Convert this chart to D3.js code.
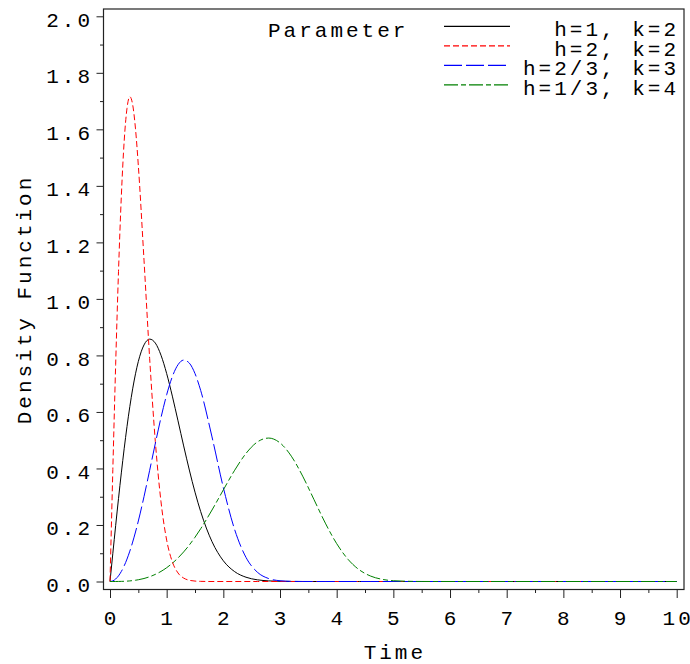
<!DOCTYPE html>
<html>
<head>
<meta charset="utf-8">
<script src="https://cdn.jsdelivr.net/npm/d3@7"></script>
<style>
  body { margin: 0; background: #fff; }
  text { font-family: "Liberation Mono", "DejaVu Sans Mono", monospace; fill: #000; }
</style>
</head>
<body>
<svg id="chart" width="690" height="664"></svg>
<script>

// time grid the curves were read at
const TIME = [0, 0.05, 0.1, 0.15, 0.2, 0.25, 0.3, 0.35, 0.4, 0.45, 0.5, 0.6, 0.7, 0.8, 0.9,
    1.0, 1.1, 1.2, 1.3, 1.4, 1.5, 1.6, 1.8, 2.0, 2.2, 2.4, 2.6, 2.8, 3.0, 3.2, 3.4, 3.6,
    3.8, 4.0, 4.2, 4.4, 4.6, 4.8, 5.0, 5.5, 6.0, 10];

// density values, one array per parameter set
const H1_K2 = [0, 0.0998, 0.1980, 0.2933, 0.3843, 0.4697, 0.5484, 0.6193, 0.6817, 0.7350, 0.7788,
    0.8372, 0.8577, 0.8437, 0.8007, 0.7358, 0.6560, 0.5686, 0.4797, 0.3944, 0.3162, 0.2474,
    0.1410, 0.0733, 0.0348, 0.0151, 0.0060, 0.0022, 0.0007, 0.0002, 0, 0,
    0, 0, 0, 0, 0, 0, 0, 0, 0, 0];
const H2_K2 = [0, 0.3960, 0.7686, 1.0967, 1.3634, 1.5576, 1.6744, 1.7154, 1.6873, 1.6015, 1.4715,
    1.1373, 0.7888, 0.4947, 0.2820, 0.1465, 0.0696, 0.0302, 0.0121, 0.0044, 0.0015, 0.0005,
    0, 0, 0, 0, 0, 0, 0, 0, 0, 0,
    0, 0, 0, 0, 0, 0, 0, 0, 0, 0];
const H23_K3 = [0, 0.0022, 0.0089, 0.0200, 0.0355, 0.0553, 0.0794, 0.1075, 0.1396, 0.1752, 0.2141,
    0.3002, 0.3935, 0.4888, 0.5801, 0.6609, 0.7250, 0.7671, 0.7835, 0.7727, 0.7358, 0.6761,
    0.5116, 0.3323, 0.1834, 0.0852, 0.0329, 0.0104, 0.0027, 0.0006, 0.0001, 0,
    0, 0, 0, 0, 0, 0, 0, 0, 0, 0];
const H13_K4 = [0, 0, 0, 0.0002, 0.0004, 0.0008, 0.0013, 0.0021, 0.0032, 0.0045, 0.0062,
    0.0106, 0.0169, 0.0252, 0.0357, 0.0488, 0.0646, 0.0832, 0.1047, 0.1292, 0.1566, 0.1866,
    0.2530, 0.3242, 0.3938, 0.4532, 0.4937, 0.5076, 0.4905, 0.4434, 0.3728, 0.2897,
    0.2065, 0.1340, 0.0785, 0.0411, 0.0191, 0.0078, 0.0028, 0.0001, 0, 0];

const SERIES_LABELS = ["h=1, k=2", "h=2, k=2", "h=2/3, k=3", "h=1/3, k=4"];
const SERIES_VALUES = [H1_K2, H2_K2, H23_K3, H13_K4];

const X_TICKS = [0, 1, 2, 3, 4, 5, 6, 7, 8, 9, 10];
const Y_TICKS = [0, 0.2, 0.4, 0.6, 0.8, 1.0, 1.2, 1.4, 1.6, 1.8, 2.0];

const COLORS = ["#000000", "#ff0000", "#0000ff", "#008000"];
const DASHES = [null, "6,3", "18,4", "14,3,5,3"];

const FONT = 21, SPACE = 3;

let svg = d3.select("#chart");

// frame of the plot area
let frame = {left: 103.5, right: 684, top: 9, bottom: 589.5};

let x = d3.scaleLinear().domain([0, 10]).range([110, 676.7]);
let y = d3.scaleLinear().domain([0, 2]).range([581.5, 16.3]);

// spaced-out text; the last glyph gets no trailing space so anchors stay true
function spaced(sel, fmt) {
    sel.style("font-size", FONT + "px").each(function(d) {
        let s = String(fmt(d));
        let t = d3.select(this);
        t.append("tspan").style("letter-spacing", SPACE + "px").text(s.slice(0, -1));
        t.append("tspan").style("letter-spacing", "0px").text(s.slice(-1));
    });
}

svg.append("rect")
    .attr("x", frame.left).attr("y", frame.top)
    .attr("width", frame.right - frame.left)
    .attr("height", frame.bottom - frame.top)
    .attr("fill", "none")
    .attr("stroke", "#222")
    .attr("stroke-width", 1.2);

// y axis: major + minor ticks drawn with d3.axisLeft
let yAxis = svg.append("g").attr("transform", `translate(${frame.left},0)`);
yAxis.call(d3.axisLeft(y).tickValues(d3.range(0.1, 2, 0.2)).tickSize(3.5).tickFormat(""));
yAxis.append("g").call(d3.axisLeft(y).tickValues(Y_TICKS).tickSize(7).tickFormat(""));
yAxis.selectAll(".domain").remove();
yAxis.selectAll("line").attr("stroke", "#222");

svg.append("g").selectAll("text")
    .data(Y_TICKS)
    .join("text")
    .attr("x", 90)
    .attr("y", d => y(d) + 10.5)
    .attr("text-anchor", "end")
    .call(spaced, d3.format(".1f"));

// x axis sits under the frame
let xAxis = svg.append("g").attr("transform", `translate(0,${frame.bottom})`);
xAxis.call(d3.axisBottom(x).tickValues(d3.range(0.5, 10, 1)).tickSize(3.5).tickFormat(""));
xAxis.append("g").call(d3.axisBottom(x).tickValues(X_TICKS).tickSize(8.5).tickFormat(""));
xAxis.selectAll(".domain").remove();
xAxis.selectAll("line").attr("stroke", "#222");

svg.append("g").selectAll("text")
    .data(X_TICKS)
    .join("text")
    .attr("x", d => x(d))
    .attr("y", 625)
    .attr("text-anchor", "middle")
    .call(spaced, d => d);

svg.append("text")
    .datum("Time")
    .attr("x", x(5))
    .attr("y", 659)
    .attr("text-anchor", "middle")
    .call(spaced, d => d);

svg.append("text")
    .datum("Density Function")
    .attr("transform", "translate(31,301) rotate(-90)")
    .attr("text-anchor", "middle")
    .call(spaced, d => d);

// curves
let line = d3.line()
    .x(d => x(d[0]))
    .y(d => y(d[1]))
    .curve(d3.curveMonotoneX);

let curves = svg.append("g");
SERIES_VALUES.forEach((vals, i) => {
    let pts = TIME.map((t, j) => [t, vals[j]]);
    curves.append("path")
        .attr("d", line(pts))
        .attr("fill", "none")
        .attr("stroke", COLORS[i])
        .attr("stroke-width", 1)
        .attr("stroke-dasharray", DASHES[i]);
});

// legend
let legend = svg.append("g");
legend.append("text")
    .datum("Parameter")
    .attr("x", 268)
    .attr("y", 37)
    .call(spaced, d => d);

SERIES_LABELS.forEach((lab, i) => {
    let ly = 26.3 + i * 19.5;
    legend.append("line")
        .attr("x1", 444).attr("x2", 510)
        .attr("y1", ly).attr("y2", ly)
        .attr("stroke", COLORS[i])
        .attr("stroke-width", 1.2)
        .attr("stroke-dasharray", DASHES[i]);
    legend.append("text")
        .datum(lab)
        .attr("x", 676)
        .attr("y", ly + 10)
        .attr("text-anchor", "end")
        .call(spaced, d => d);
});
</script>
</body>
</html>
